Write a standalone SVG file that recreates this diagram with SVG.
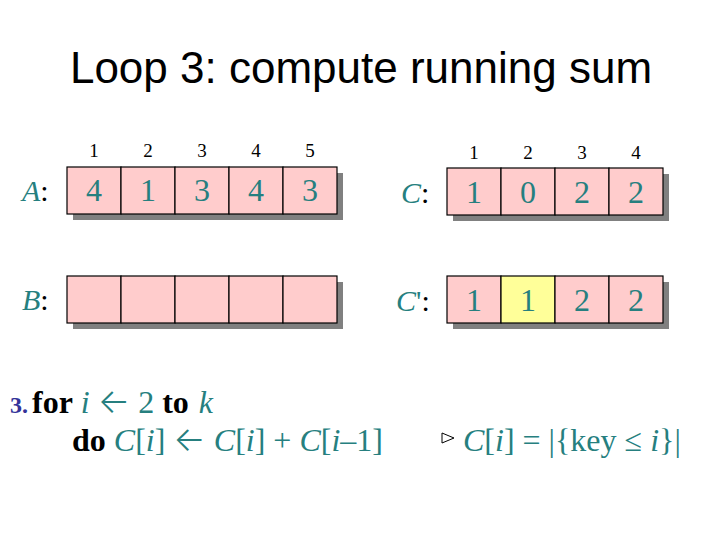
<svg xmlns="http://www.w3.org/2000/svg" width="720" height="540" viewBox="0 0 720 540">
<style>
.cell{fill:#FFCCCC;stroke:#000;stroke-width:1.2}
.hl{fill:#FFFF99}
.sh{fill:#808080}
.idx{font-family:"Liberation Serif","Times New Roman",serif;font-size:19px;fill:#000;text-anchor:middle}
.val{font-family:"Liberation Serif","Times New Roman",serif;font-size:32px;fill:#267F7F;text-anchor:middle}
.lbl{font-family:"Liberation Serif","Times New Roman",serif;font-size:30px;fill:#267F7F}
.blk{fill:#000}
.it{font-style:italic}
.code{font-family:"Liberation Serif","Times New Roman",serif;font-size:32px;fill:#267F7F}
.b{font-weight:bold;fill:#000}
.arr{font-family:"Inter","DejaVu Sans",sans-serif;font-size:34px;font-weight:300}
</style>
<rect width="720" height="540" fill="#fff"/>
<text x="361" y="83" font-family="Liberation Sans, Arial, sans-serif" font-size="44" text-anchor="middle" fill="#000">Loop 3: compute running sum</text>

<g id="arrayA">
<text class="idx" x="94" y="157">1</text><text class="idx" x="148" y="157">2</text><text class="idx" x="202" y="157">3</text><text class="idx" x="256" y="157">4</text><text class="idx" x="310" y="157">5</text>
<rect class="sh" x="73" y="173" width="270" height="47"/>
<rect class="cell" x="67" y="167" width="54" height="47"/><rect class="cell" x="121" y="167" width="54" height="47"/><rect class="cell" x="175" y="167" width="54" height="47"/><rect class="cell" x="229" y="167" width="54" height="47"/><rect class="cell" x="283" y="167" width="54" height="47"/>
<text class="val" x="94" y="201">4</text><text class="val" x="148" y="201">1</text><text class="val" x="202" y="201">3</text><text class="val" x="256" y="201">4</text><text class="val" x="310" y="201">3</text>
<text class="lbl" x="22" y="201"><tspan class="it">A</tspan><tspan class="blk">:</tspan></text>
</g>

<g id="arrayC">
<text class="idx" x="474" y="159">1</text><text class="idx" x="528" y="159">2</text><text class="idx" x="582" y="159">3</text><text class="idx" x="636" y="159">4</text>
<rect class="sh" x="453" y="174" width="216" height="47"/>
<rect class="cell" x="447" y="168" width="54" height="47"/><rect class="cell" x="501" y="168" width="54" height="47"/><rect class="cell" x="555" y="168" width="54" height="47"/><rect class="cell" x="609" y="168" width="54" height="47"/>
<text class="val" x="474" y="203">1</text><text class="val" x="528" y="203">0</text><text class="val" x="582" y="203">2</text><text class="val" x="636" y="203">2</text>
<text class="lbl" x="401" y="203"><tspan class="it">C</tspan><tspan class="blk">:</tspan></text>
</g>

<g id="arrayB">
<rect class="sh" x="73" y="282" width="270" height="47"/>
<rect class="cell" x="67" y="276" width="54" height="47"/><rect class="cell" x="121" y="276" width="54" height="47"/><rect class="cell" x="175" y="276" width="54" height="47"/><rect class="cell" x="229" y="276" width="54" height="47"/><rect class="cell" x="283" y="276" width="54" height="47"/>
<text class="lbl" x="22" y="310"><tspan class="it">B</tspan><tspan class="blk">:</tspan></text>
</g>

<g id="arrayCprime">
<rect class="sh" x="453" y="282" width="216" height="47"/>
<rect class="cell" x="447" y="276" width="54" height="47"/><rect class="cell hl" x="501" y="276" width="54" height="47"/><rect class="cell" x="555" y="276" width="54" height="47"/><rect class="cell" x="609" y="276" width="54" height="47"/>
<text class="val" x="474" y="311">1</text><text class="val" x="528" y="311">1</text><text class="val" x="582" y="311">2</text><text class="val" x="636" y="311">2</text>
<text class="lbl" x="396" y="311"><tspan class="it">C</tspan>'<tspan class="blk">:</tspan></text>
</g>

<g id="code">
<text class="code" x="10" y="413"><tspan font-size="24" font-weight="bold" fill="#333399">3.</tspan><tspan class="b" dx="4">for</tspan> <tspan class="it">i</tspan> <tspan class="arr">←</tspan> 2 <tspan class="b">to</tspan> <tspan class="it" dx="2">k</tspan></text>
<text class="code" x="72" y="451"><tspan class="b">do</tspan> <tspan class="it">C</tspan>[<tspan class="it">i</tspan>] <tspan class="arr">←</tspan> <tspan class="it">C</tspan>[<tspan class="it">i</tspan>] + <tspan class="it">C</tspan>[<tspan class="it">i</tspan>–1]</text>
</g>

<g id="comment">
<path d="M442 433 L454 438 L442 443 Z" fill="none" stroke="#000" stroke-width="1"/>
<text class="code" x="463" y="451"><tspan class="it">C</tspan>[<tspan class="it">i</tspan>] = |{key ≤ <tspan class="it">i</tspan>}|</text>
</g>
</svg>
